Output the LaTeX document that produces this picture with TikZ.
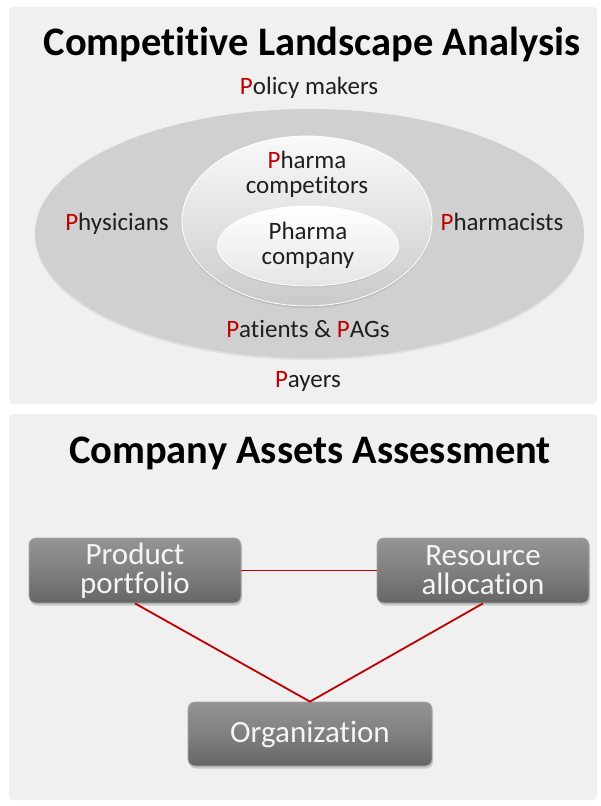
\documentclass[tikz,border=0pt]{standalone}
\usepackage{fontspec}
\setmainfont{Carlito}[Ligatures=CommonOff]
\usetikzlibrary{shapes.geometric,shadows}
\definecolor{pred}{HTML}{C00000}
\definecolor{panel}{HTML}{F0F0F0}
\definecolor{outerg}{HTML}{D0D0D0}
\newcommand{\RP}{\textcolor{pred}{P}}
\begin{document}
\begin{tikzpicture}[x=1pt,y=-1pt,
  panelbox/.style={fill=panel,draw=none,rounded corners=4pt},
  titletxt/.style={font=\fontsize{40.5}{44}\selectfont\bfseries,text=black,inner sep=0pt},
  lbl/.style={font=\fontsize{25}{25}\selectfont,text=black!88,align=center,inner sep=0pt},
  gbox/.style={rounded corners=7pt,top color=black!42,bottom color=black!60,middle color=black!50,
     draw=black!35,line width=0.8pt,drop shadow={shadow xshift=1pt,shadow yshift=-2.5pt,opacity=0.35},
     font=\fontsize{31}{29}\selectfont,text=white!96!black,align=center,inner sep=0pt},
  link/.style={draw=pred,line width=1.8pt}
]
\useasboundingbox (0,0) rectangle (600,806);
\fill[white] (0,0) rectangle (600,806);
\fill[panelbox] (9,7) rectangle (597,404);
\fill[panelbox] (9,414) rectangle (597,800);

% top panel
\node[titletxt] (t1) at (312,44) {Competitive Landscape Analysis};
\node[ellipse,fill=outerg,minimum width=549pt,minimum height=249pt,inner sep=0pt,
      drop shadow={shadow xshift=0pt,shadow yshift=-2pt,opacity=0.15}] (outer) at (309.5,233.5) {};
\node[ellipse,minimum width=250pt,minimum height=170pt,inner sep=0pt,
      top color=white!96!gray,bottom color=gray!42,draw=white,line width=0.8pt,
      drop shadow={shadow xshift=0pt,shadow yshift=-2pt,opacity=0.25}] (mid) at (307,221) {};
\node[ellipse,minimum width=181pt,minimum height=80pt,inner sep=0pt,
      top color=white,bottom color=gray!20,draw=white,line width=0.8pt,
      drop shadow={shadow xshift=0pt,shadow yshift=-1.5pt,opacity=0.2}] (inner) at (308,246) {};

\node[lbl] (policy) at (309,88) {\RP olicy makers};
\node[lbl] (comp) at (307,174) {\RP harma\\competitors};
\node[lbl] (company) at (308,245) {Pharma\\company};
\node[lbl] (phys) at (117,224) {\RP hysicians};
\node[lbl] (pharm) at (502,222) {\RP harmacists};
\node[lbl] (pat) at (308,329) {\RP atients \& \RP AGs};
\node[lbl] (pay) at (308,381) {\RP ayers};

% bottom panel
\node[titletxt] (t2) at (310,453) {Company Assets Assessment};
\node[gbox,minimum width=212pt,minimum height=65pt] (pp) at (135,570.5) {Product\\portfolio};
\node[gbox,minimum width=212pt,minimum height=65pt] (ra) at (483,570.5) {Resource\\allocation};
\node[gbox,minimum width=244pt,minimum height=64pt] (org) at (310,734) {Organization};

\draw[link] (pp.east) -- (ra.west);
\draw[link] (pp.south) -- (org.north) -- (ra.south);
\end{tikzpicture}
\end{document}
